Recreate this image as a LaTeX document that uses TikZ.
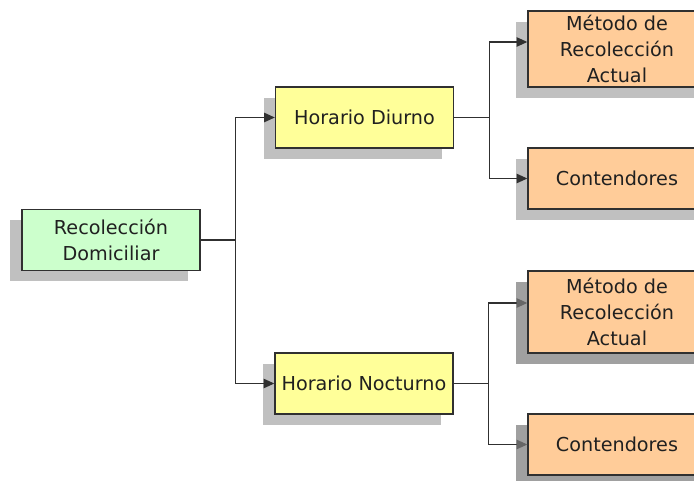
\documentclass[tikz,border=0pt]{standalone}
\usepackage{fontspec}
\setmainfont{DejaVu Sans}
\usetikzlibrary{arrows.meta,shadows}
\definecolor{verderaiz}{HTML}{CCFFCC}
\definecolor{amarillohorario}{HTML}{FFFF99}
\definecolor{naranjahoja}{HTML}{FFCC99}
\definecolor{sombraclara}{HTML}{C0C0C0}
\definecolor{sombraoscura}{HTML}{A0A0A0}
\definecolor{borde}{HTML}{303030}
\definecolor{texto}{HTML}{202020}
\begin{document}
\begin{tikzpicture}[x=0.75pt, y=-0.75pt,
		caja/.style={draw=borde, line width=1pt, align=center, inner sep=0pt, text=texto,
			minimum width=133.5pt, minimum height=45.75pt, font=\fontsize{14.4}{19.2}\selectfont,
			drop shadow={shadow xshift=-9pt, shadow yshift=-8.25pt, fill=sombraclara, opacity=1}},
		cajaosc/.style={caja, drop shadow={shadow xshift=-9pt, shadow yshift=-8.25pt, fill=sombraoscura, opacity=1}},
		linea/.style={line width=1pt, borde},
		flecha/.style={linea, -{Triangle[length=8pt, width=7pt]}},
		flechagris/.style={linea, -{Triangle[length=8pt, width=7pt, color=black!60]}}]
			\clip (0,0) rectangle (694,481);
			\node[caja, fill=verderaiz] (raiz) at (111,240) {Recolección\\Domiciliar};
			\node[caja, fill=amarillohorario] (diurno) at (364.5,117.5) {Horario Diurno};
			\node[caja, fill=amarillohorario] (nocturno) at (364,383.5) {Horario Nocturno};
			\node[caja, fill=naranjahoja, minimum height=57pt] (metodo1) at (617,49) {Método de\\Recolección\\Actual};
			\node[caja, fill=naranjahoja] (contend1) at (617,178.5) {Contendores};
			\node[cajaosc, fill=naranjahoja, minimum height=61.5pt] (metodo2) at (617,312) {Método de\\Recolección\\Actual};
			\node[cajaosc, fill=naranjahoja] (contend2) at (617,444.5) {Contendores};
			\draw[linea] (raiz.east) -- ++(35,0) coordinate (bif1);
			\draw[flecha] (bif1) |- (diurno.west);
			\draw[flecha] (bif1) |- (nocturno.west);
			\draw[linea] (diurno.east) -- ++(35,0) coordinate (bif2);
			\draw[flecha] (bif2) |- ([yshift=5.25pt]metodo1.west);
			\draw[flecha] (bif2) |- (contend1.west);
			\draw[linea] (nocturno.east) -- ++(35,0) coordinate (bif3);
			\draw[flechagris] (bif3) |- ([yshift=6.75pt]metodo2.west);
			\draw[flechagris] (bif3) |- (contend2.west);
		\end{tikzpicture}
\end{document}
